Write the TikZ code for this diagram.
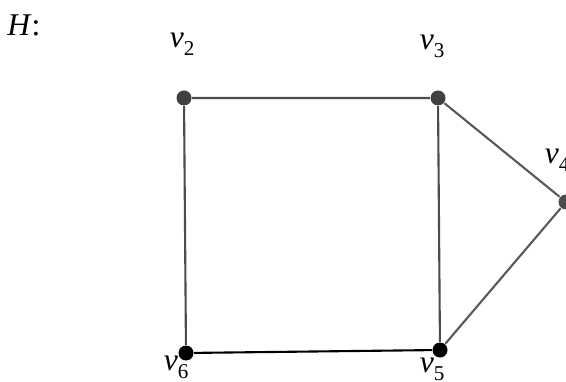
\documentclass[tikz,border=0pt]{standalone}
\usepackage{fontspec}
\setmainfont{Liberation Serif}
\tikzset{
    vtx/.style={circle, fill=black, inner sep=0pt, minimum size=0.15cm},
    lbl/.style={font=\fontsize{9}{11}\selectfont}
}
\newcommand{\vname}[1]{\textit{v}\textsubscript{\raisebox{-0.45ex}{#1}}}
\begin{document}
\begin{tikzpicture}
    \useasboundingbox (0,0) rectangle (5.66,3.81);
    \node[lbl] (h) at (0.24,3.56) {\textit{H}:};
    \node[vtx, fill=black!75] (v2) at (1.84,2.83) {};
    \node[vtx, fill=black!75] (v3) at (4.38,2.83) {};
    \node[vtx, fill=black!70] (v4) at (5.66,1.79) {};
    \node[vtx] (v5) at (4.40,0.31) {};
    \node[vtx] (v6) at (1.86,0.28) {};
    \node[lbl] at (1.83,3.37) {\vname{2}};
    \node[lbl] at (4.33,3.35) {\vname{3}};
    \node[lbl] at (5.58,2.21) {\vname{4}};
    \node[lbl] at (4.33,0.12) {\vname{5}};
    \node[lbl] at (1.77,0.14) {\vname{6}};
    \draw[black!70, semithick] (v6) -- (v2) -- (v3) -- (v5);
    \draw[black!65, semithick] (v3) -- (v4) -- (v5);
    \draw[black, semithick] (v6) -- (v5);
\end{tikzpicture}
\end{document}
